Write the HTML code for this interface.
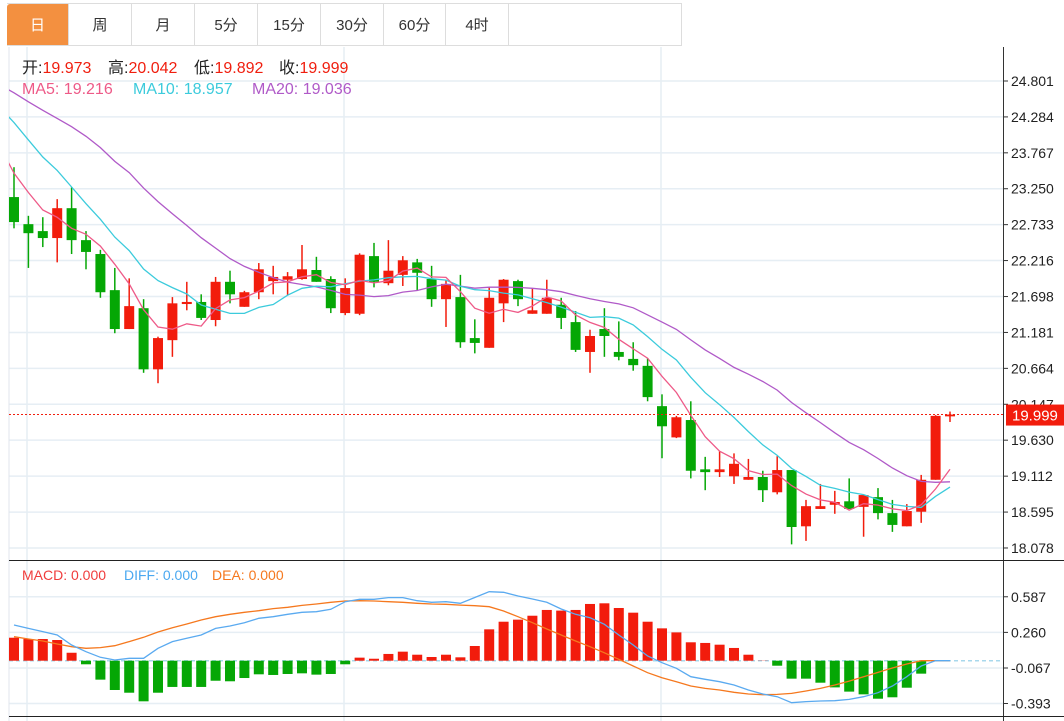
<!DOCTYPE html>
<html><head><meta charset="utf-8">
<style>
html,body{margin:0;padding:0;background:#fff;width:1064px;height:721px;overflow:hidden;font-family:"Liberation Sans","Noto Sans CJK SC",sans-serif;}
.tabs{position:absolute;left:7px;top:3px;height:43px;display:flex;border-top:1px solid #ddd;}
.tab{width:62px;height:42px;border-right:1px solid #ddd;border-bottom:1px solid #ddd;display:flex;align-items:center;justify-content:center;font-size:15px;color:#333;box-sizing:border-box;}
.tab.active{background:#f39040;color:#fff;border-radius:3px 0 0 0;}
svg{position:absolute;left:0;top:0;}
</style></head>
<body>
<div class="tabs">
<div class="tab active" style="width:62px">日</div>
<div class="tab" style="width:63px">周</div>
<div class="tab" style="width:63px">月</div>
<div class="tab" style="width:63px">5分</div>
<div class="tab" style="width:63px">15分</div>
<div class="tab" style="width:63px">30分</div>
<div class="tab" style="width:62px">60分</div>
<div class="tab" style="width:63px">4时</div>
<div class="tab" style="width:173px"></div>
</div>
<svg id="chart" width="1064" height="721" style="top:0">
<defs><clipPath id="mainclip"><rect x="9" y="47" width="994" height="513"/></clipPath>
<clipPath id="macdclip"><rect x="9" y="561" width="994" height="155"/></clipPath></defs>
<g id="grid"></g>
<g id="main" clip-path="url(#mainclip)"></g>
<g id="macd" clip-path="url(#macdclip)"></g>
<g id="axes"></g>
<text y="73" font-size="16"><tspan x="22" fill="#222">开:</tspan><tspan fill="#f01e0e">19.973</tspan><tspan x="108" fill="#222">高:</tspan><tspan fill="#f01e0e">20.042</tspan><tspan x="194" fill="#222">低:</tspan><tspan fill="#f01e0e">19.892</tspan><tspan x="279" fill="#222">收:</tspan><tspan fill="#f01e0e">19.999</tspan></text>
<text y="94" font-size="16"><tspan x="22" fill="#ee5a88">MA5: 19.216</tspan><tspan x="133" fill="#3ccbdc">MA10: 18.957</tspan><tspan x="252" fill="#b05ac8">MA20: 19.036</tspan></text>
<text y="580" font-size="14"><tspan x="22" fill="#f03c3c">MACD: 0.000</tspan><tspan x="124" fill="#4aa8f0">DIFF: 0.000</tspan><tspan x="212" fill="#f5781e">DEA: 0.000</tspan></text>
</svg>
<script>
const history = [25.1,25.2,25.0,25.3,24.9,25.1,25.0,25.2,24.8,25.1,25.0,25.1,25.0,24.9,24.9,24.75,24.0,23.8,23.5,23.3];
const opens = [23.13,22.74,22.64,22.54,22.97,22.51,22.31,21.79,21.23,21.53,20.65,21.07,21.59,21.62,21.36,21.91,21.55,21.76,21.92,21.94,21.95,22.08,21.95,21.46,21.45,22.28,21.89,22.01,22.19,21.95,21.66,21.69,21.10,20.96,21.60,21.92,21.45,21.45,21.58,21.33,20.90,21.23,20.90,20.80,20.70,20.12,19.67,19.92,19.21,19.17,19.11,19.06,19.10,18.88,19.20,18.39,18.64,18.70,18.75,18.67,18.81,18.58,18.39,18.60,19.06,19.973];
const closes = [22.77,22.61,22.54,22.97,22.51,22.34,21.76,21.23,21.56,20.65,21.10,21.60,21.62,21.39,21.91,21.73,21.76,22.09,21.98,21.99,22.09,21.91,21.53,21.82,22.30,21.91,22.07,22.22,22.04,21.66,21.88,21.04,21.03,21.68,21.94,21.66,21.50,21.68,21.39,20.93,21.13,21.13,20.83,20.71,20.25,19.83,19.96,19.19,19.17,19.21,19.29,19.10,18.91,19.20,18.38,18.68,18.68,18.74,18.64,18.84,18.58,18.41,18.61,19.06,19.98,19.999];
const highs = [23.56,22.86,22.84,23.10,23.27,22.64,22.37,22.11,21.96,21.66,21.12,21.69,21.91,21.73,21.98,22.07,21.78,22.18,22.14,22.05,22.44,22.27,21.99,21.96,22.32,22.47,22.51,22.28,22.24,22.14,21.94,22.01,21.37,21.83,21.95,21.94,21.82,21.94,21.68,21.49,21.22,21.53,21.34,21.04,20.81,20.29,19.98,20.19,19.39,19.47,19.44,19.36,19.19,19.40,19.20,18.77,19.00,18.90,19.08,18.84,18.94,18.77,18.71,19.13,19.99,20.042];
const lows = [22.68,22.11,22.41,22.19,22.31,22.09,21.68,21.17,21.23,20.60,20.45,20.83,21.50,21.36,21.27,21.60,21.55,21.66,21.73,21.72,21.94,21.91,21.46,21.43,21.43,21.83,21.86,21.85,21.79,21.55,21.26,20.96,20.88,20.96,21.33,21.56,21.45,21.45,21.23,20.90,20.60,20.83,20.78,20.63,20.19,19.37,19.66,19.08,18.91,19.10,19.00,19.06,18.74,18.85,18.13,18.18,18.64,18.57,18.64,18.24,18.49,18.31,18.39,18.44,19.06,19.892];
const macdBars = [0.211,0.199,0.199,0.19,0.073,-0.033,-0.174,-0.269,-0.294,-0.373,-0.294,-0.241,-0.241,-0.241,-0.184,-0.189,-0.159,-0.125,-0.131,-0.122,-0.116,-0.128,-0.122,-0.033,0.028,0.018,0.062,0.083,0.055,0.034,0.055,0.031,0.135,0.288,0.358,0.377,0.413,0.466,0.46,0.466,0.521,0.527,0.484,0.441,0.358,0.297,0.26,0.169,0.163,0.147,0.117,0.055,0.002,-0.046,-0.165,-0.165,-0.202,-0.245,-0.284,-0.309,-0.349,-0.336,-0.248,-0.119,0,0];
const diffs = [0.328,0.297,0.267,0.236,0.144,0.083,0.031,0.006,0.022,0.022,0.114,0.175,0.206,0.236,0.297,0.319,0.349,0.389,0.404,0.426,0.444,0.45,0.472,0.542,0.564,0.564,0.579,0.579,0.551,0.536,0.542,0.527,0.58,0.634,0.628,0.594,0.567,0.536,0.475,0.426,0.395,0.334,0.236,0.144,0.043,-0.018,-0.07,-0.147,-0.171,-0.193,-0.223,-0.269,-0.306,-0.331,-0.386,-0.376,-0.37,-0.367,-0.355,-0.331,-0.294,-0.232,-0.147,-0.049,0,0];
const deas = [0.22,0.199,0.181,0.153,0.129,0.114,0.12,0.138,0.175,0.215,0.264,0.303,0.337,0.374,0.404,0.426,0.444,0.459,0.478,0.49,0.508,0.521,0.536,0.548,0.551,0.548,0.542,0.536,0.527,0.521,0.518,0.511,0.505,0.496,0.456,0.404,0.349,0.291,0.236,0.181,0.129,0.073,0.013,-0.049,-0.11,-0.156,-0.193,-0.232,-0.254,-0.269,-0.29,-0.306,-0.312,-0.309,-0.3,-0.278,-0.254,-0.223,-0.187,-0.147,-0.107,-0.067,-0.03,0,0,0];
const priceTicks = ["24.801","24.284","23.767","23.250","22.733","22.216","21.698","21.181","20.664","20.147","19.630","19.112","18.595","18.078"];
const macdTicks = ["0.587","0.260","-0.067","-0.393"];
const lastPrice = 19.999;

const NS="http://www.w3.org/2000/svg";
const RED="#f21c0c", GREEN="#05a705";
function X(i){return 14+14.4*i;}
function Y(p){return 81+(24.801-p)*69.46;}
function MY(v){return 660.7-v*108.9;}
function mk(tag,attrs,parent){const e=document.createElementNS(NS,tag);for(const k in attrs)e.setAttribute(k,attrs[k]);parent.appendChild(e);return e;}
const grid=document.getElementById('grid'),main=document.getElementById('main'),macd=document.getElementById('macd'),axes=document.getElementById('axes');

priceTicks.forEach(t=>{const y=Y(parseFloat(t));
 const l=mk('line',{x1:9,x2:1003,y1:y,y2:y,stroke:'#e6eef4','stroke-width':1.5},grid);
 
 
 const tk=mk('line',{x1:1004,x2:1008,y1:y,y2:y,stroke:'#333'},axes);
 
 
 const tx=mk('text',{x:1011,y:y+5,'font-size':14,fill:'#222'},axes);tx.textContent=t;
 
 
});
macdTicks.forEach(t=>{const y=MY(parseFloat(t));
 const l=mk('line',{x1:9,x2:1003,y1:y,y2:y,stroke:'#e6eef4','stroke-width':1.5},grid);
 
 
 const tk=mk('line',{x1:1004,x2:1008,y1:y,y2:y,stroke:'#333'},axes);
 
 
 const tx=mk('text',{x:1011,y:y+5,'font-size':14,fill:'#222'},axes);tx.textContent=t;
 
 
});
[27,344,661].forEach(x=>{
 const l=mk('line',{x1:x,x2:x,y1:47,y2:721,stroke:'#e6eef4','stroke-width':1.5},grid);
 
 
});
mk('line',{x1:9,x2:9,y1:47,y2:721,stroke:'#e0e6ec'},grid);
const ax1=mk('line',{x1:1003.5,x2:1003.5,y1:47,y2:721,stroke:'#333'},axes);


const sep=mk('line',{x1:9,x2:1064,y1:560.5,y2:560.5,stroke:'#222'},axes);


const bot=mk('line',{x1:9,x2:1064,y1:716.5,y2:716.5,stroke:'#222'},axes);



for(let i=0;i<closes.length;i++){
 const up=closes[i]>=opens[i], c=up?RED:GREEN, x=X(i);
 const g=mk('g',{},main);
 
 
 mk('line',{x1:x,x2:x,y1:Y(highs[i]),y2:Y(lows[i]),stroke:c,'stroke-width':1.5},g);
 const top=Y(Math.max(opens[i],closes[i])),b=Y(Math.min(opens[i],closes[i]));
 mk('rect',{x:x-5,y:top,width:10,height:Math.max(1.5,b-top),fill:c},g);
}
const all=history.concat(closes), off=history.length;
function ma(n,color,name){let pts=[];
 for(let i=-1;i<closes.length;i++){const k=i+off;if(k-n+1<0)continue;let s=0;for(let j=k-n+1;j<=k;j++)s+=all[j];pts.push(X(i).toFixed(1)+','+Y(s/n).toFixed(1));}
 const p=mk('polyline',{points:pts.join(' '),fill:'none',stroke:color,'stroke-width':1.3},main);
 
 
}
ma(20,'#b05ac8','ma20-line');ma(10,'#3ccbdc','ma10-line');ma(5,'#ee5a88','ma5-line');
const ly=Y(lastPrice);
const lp=mk('line',{x1:9,x2:1003,y1:ly,y2:ly,stroke:'#f01e0e','stroke-dasharray':'2,2'},axes);


const lb=mk('rect',{x:1006,y:ly-10,width:58,height:21,fill:'#f21c0c'},axes);


const lt=mk('text',{x:1012,y:ly+6,'font-size':15,fill:'#fff'},axes);lt.textContent=lastPrice.toFixed(3);



const z=mk('line',{x1:9,x2:1003,y1:MY(0),y2:MY(0),stroke:'#a8d8ec','stroke-dasharray':'4,3','stroke-width':1.5},macd);


for(let i=0;i<macdBars.length;i++){const v=macdBars[i];if(Math.abs(v)<0.001)continue;
 const y0=MY(0),y1=MY(v);
 const r=mk('rect',{x:X(i)-5,y:Math.min(y0,y1),width:10,height:Math.abs(y1-y0),fill:v>0?RED:GREEN},macd);
 
 
}
function line(arr,color,name){const pts=arr.map((v,i)=>X(i).toFixed(1)+','+MY(v).toFixed(1));
 const p=mk('polyline',{points:pts.join(' '),fill:'none',stroke:color,'stroke-width':1.3},macd);
 
 
}
line(deas,'#f5781e','dea-line');line(diffs,'#5aaaf0','diff-line');
</script>
</body></html>
